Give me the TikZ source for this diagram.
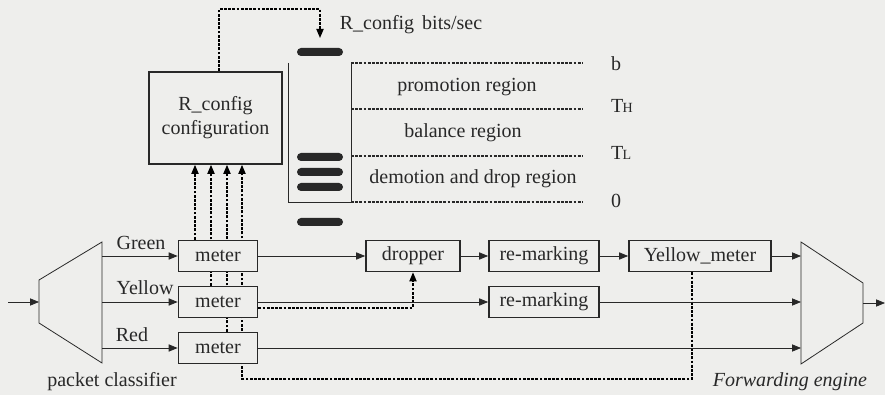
\documentclass[tikz,border=0pt]{standalone}
\usepackage{fontspec}
\setmainfont{Liberation Serif}
\usetikzlibrary{arrows.meta, positioning}
\definecolor{ink}{RGB}{40,40,40}
\definecolor{paper}{RGB}{238,238,236}
\pgfdeclarelayer{back}
\pgfsetlayers{back,main}

\begin{document}
\begin{tikzpicture}[x=0.5pt, y=-0.5pt, ink, line width=0.75pt, font=\rmfamily,
  box/.style={draw, fill=paper, line width=0.85pt, minimum height=15.5pt, inner sep=1pt},
  flow/.style={-{Triangle[length=4.5pt,width=3.6pt]}},
  ctrl/.style={dash pattern=on 1.4pt off 0.7pt, line width=0.6pt},
  pkt/.style={fill=ink, rounded corners=2pt}]
  \useasboundingbox (0,0) rectangle (885,395);

  \node[box, minimum width=66.5pt, minimum height=46pt, align=center] (cfg) at (215.5,118) {R\_config\\configuration};
  \node[box, minimum width=39.5pt] (m1) at (218,256) {meter};
  \node[box, minimum width=39.5pt] (m2) at (218,302) {meter};
  \node[box, minimum width=39.5pt] (m3) at (218,348) {meter};
  \node[box, minimum width=47pt] (dr) at (413,256) {dropper};
  \node[box, minimum width=55pt] (rm1) at (544,256) {re-marking};
  \node[box, minimum width=55pt] (rm2) at (544,302) {re-marking};
  \node[box, minimum width=71pt] (ym) at (700,256) {Yellow\_meter};

  \coordinate (in) at (8,302);   \coordinate (cI) at (39,302);
  \coordinate (cG) at (102,256); \coordinate (cY) at (102,302); \coordinate (cR) at (102,348);
  \coordinate (fG) at (801,256); \coordinate (fY) at (801,302); \coordinate (fR) at (801,348);
  \coordinate (fO) at (863,303); \coordinate (out) at (885,303);
  \coordinate (a1) at (195,0); \coordinate (a2) at (211,0);
  \coordinate (a3) at (227,0); \coordinate (a4) at (242,0);
  \coordinate (fb) at (692,379);
  \coordinate (bend) at (219,9); \coordinate (qtop) at (320,38);

  \begin{pgfonlayer}{back}
    \fill[paper] (0,0) rectangle (885,395);
    \draw[ctrl,flow] (m1.north -| a1) -- (cfg.south -| a1);
    \draw[ctrl,flow] (m2.north -| a2) -- (cfg.south -| a2);
    \draw[ctrl,flow] (m3.north -| a3) -- (cfg.south -| a3);
    \draw[ctrl,flow] (ym.south -| fb) -- (fb) -| (cfg.south -| a4);
    \draw[ctrl,flow] ([yshift=-3pt]m2.east) -| (dr.south);
    \draw[ctrl,flow] (cfg.north -| bend) -- (bend) -| (qtop);
  \end{pgfonlayer}

  \draw (39,280) -- (102,242) -- (102,363) -- (39,323) -- cycle;
  \draw (801,242) -- (863,283) -- (863,323) -- (801,364) -- cycle;
  \draw[flow] (in) -- (cI);
  \draw[flow] (cG) -- (m1.west);
  \draw[flow] (cY) -- (m2.west);
  \draw[flow] (cR) -- (m3.west);
  \draw[flow] (m1) -- (dr);
  \draw[flow] (dr) -- (rm1);
  \draw[flow] (rm1) -- (ym);
  \draw[flow] (m2) -- (rm2);
  \draw[flow] (ym) -- (fG);
  \draw[flow] (rm2) -- (fY);
  \draw[flow] (m3) -- (fR);
  \draw[flow] (fO) -- (out);

  \node (lg) at (141,243) {Green};
  \node (ly) at (145,288) {Yellow};
  \node (lr) at (132,335) {Red};
  \node (lpc) at (112,382) {packet classifier};
  \node[font=\itshape] (lfe) at (790,382) {Forwarding engine};
  \node (lbits) at (411,25) {R\_config\hspace{4pt}bits/sec};

  \draw (288,63) -- (288,202) -- (351,202) -- (351,63);
  \foreach \y in {52,157,172,187,222}
    \fill[pkt] (297,\y-4) rectangle (343,\y+4);
  \foreach \y in {63,109,156,202}
    \draw[ctrl] (351,\y) -- (583,\y);
  \node (rp) at (467,87) {promotion region};
  \node (rb) at (463,133) {balance region};
  \node (rd) at (473,179) {demotion and drop region};
  \node[anchor=west] (lb) at (604,64) {b};
  \node[anchor=west] (lth) at (604,106) {T\kern-0.3pt{\scriptsize H}};
  \node[anchor=west] (ltl) at (604,153) {T\kern-0.3pt{\scriptsize L}};
  \node[anchor=west] (l0) at (604,201) {0};
\end{tikzpicture}
\end{document}
